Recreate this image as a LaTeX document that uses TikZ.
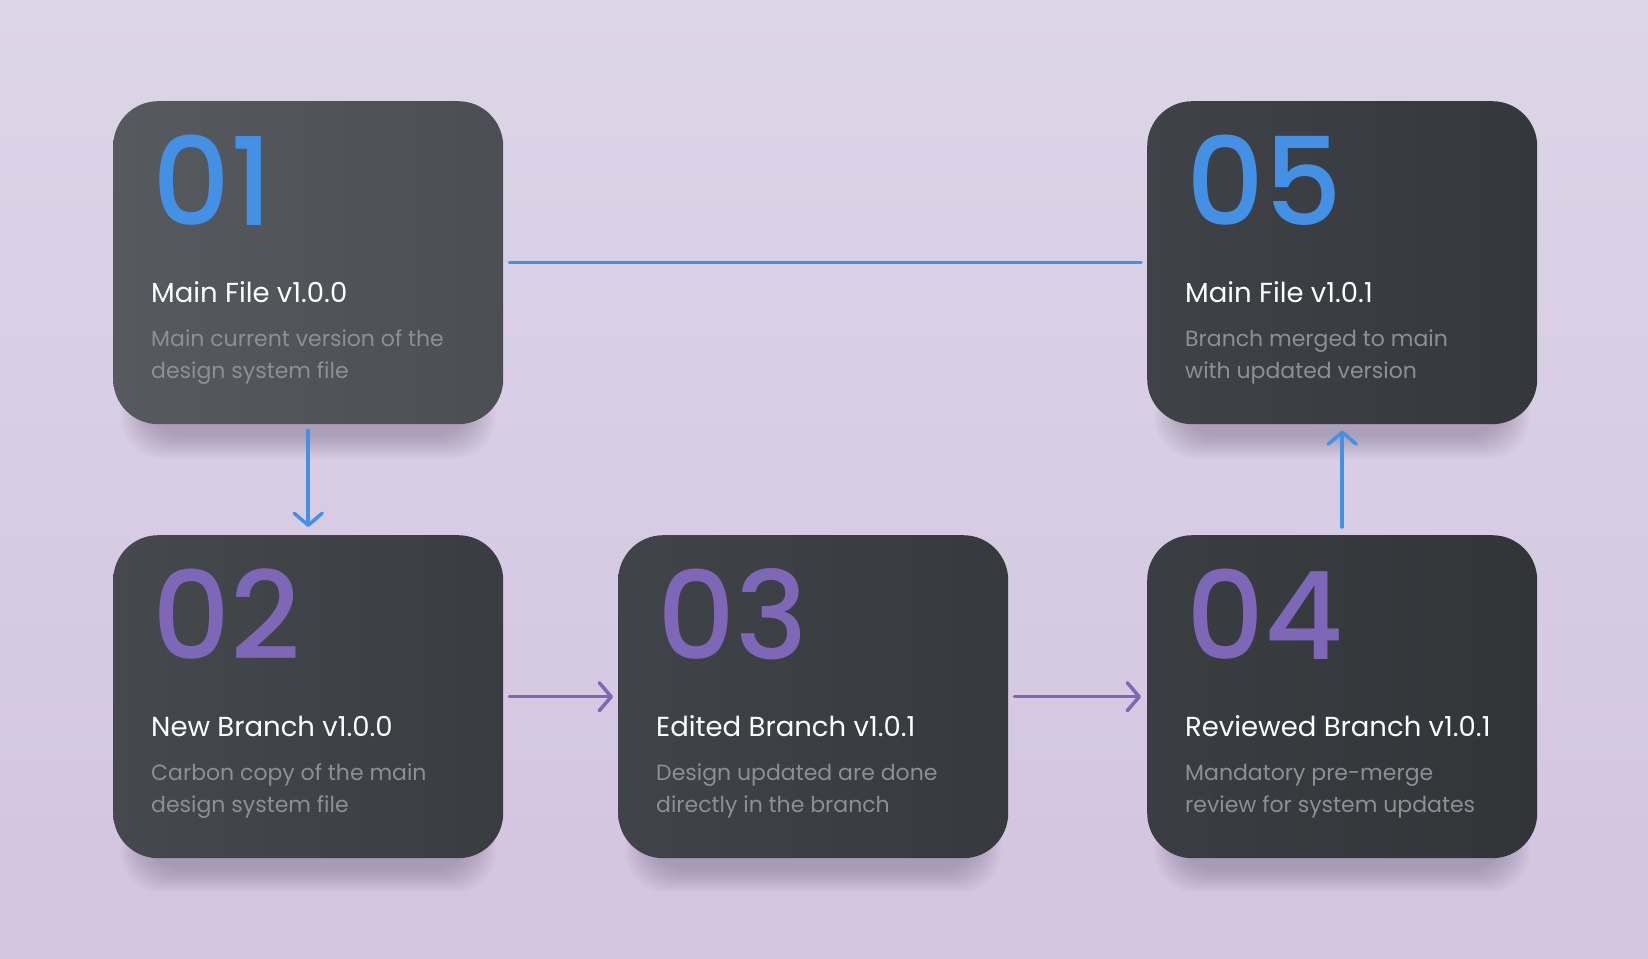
\documentclass[tikz,border=0pt]{standalone}
\usepackage{fontspec}
\setmainfont{Poppins}
\IfFontExistsTF{Poppins Medium}{\newfontfamily\numfont{Poppins Medium}}{\newfontfamily\numfont{Poppins}[FakeBold=1]}
\newfontfamily\descfont{Poppins}
\usetikzlibrary{arrows.meta,calc}
\pgfdeclarelayer{canvas}
\pgfdeclarelayer{shade}
\pgfsetlayers{canvas,shade,main}
\definecolor{bgA}{HTML}{DDD5E8}
\definecolor{bgB}{HTML}{D3C4E0}
\definecolor{nblue}{HTML}{4490E4}
\definecolor{npurp}{HTML}{7D67B6}
\definecolor{descc}{HTML}{8C8F94}
\definecolor{shadowc}{HTML}{4A3D5E}
\definecolor{c1L}{HTML}{56595D}\definecolor{c1R}{HTML}{4B4E52}
\definecolor{c2L}{HTML}{45484C}\definecolor{c2R}{HTML}{393C40}
\definecolor{c3L}{HTML}{404347}\definecolor{c3R}{HTML}{36393D}
\definecolor{c4L}{HTML}{3A3D41}\definecolor{c4R}{HTML}{323538}
\definecolor{c5L}{HTML}{3F4246}\definecolor{c5R}{HTML}{34373B}
\tikzset{
  card/.style={draw=none, rounded corners=45pt, minimum width=390pt, minimum height=323pt, inner sep=0pt, anchor=north west},
  num/.style={anchor=base west, inner sep=0pt, font=\numfont\fontsize{122}{122}\selectfont},
  ttl/.style={anchor=base west, inner sep=0pt, text=white, font=\fontsize{27.5}{27.5}\selectfont},
  dsc/.style={anchor=base west, inner sep=0pt, text=descc, font=\descfont\fontsize{22}{22}\selectfont},
  conn/.style={line width=3.5pt, line cap=round},
  arr/.style={conn, -{Straight Barb[length=12pt,width=28pt,round]}},
}
\begin{document}
\begin{tikzpicture}[x=1pt,y=-1pt]
\useasboundingbox (0,0) rectangle (1648,958);
\begin{pgfonlayer}{canvas}
\shade[top color=bgA, bottom color=bgB] (0,0) rectangle (1648,958);
\end{pgfonlayer}

% cards
\node[card, left color=c1L, right color=c1R] (b1) at (113,101) {};
\node[card, left color=c5L, right color=c5R] (b5) at (1147,101) {};
\node[card, left color=c2L, right color=c2R] (b2) at (113,535) {};
\node[card, left color=c3L, right color=c3R] (b3) at (618,535) {};
\node[card, left color=c4L, right color=c4R] (b4) at (1147,535) {};

% shadows
\begin{pgfonlayer}{shade}
\foreach \b in {b1,b2,b3,b4,b5}{
  \foreach \k in {0,...,11}{
    \fill[shadowc, opacity=0.028, rounded corners=40pt]
      ($(\b.north west)+(32-2.2*\k, 40-1.5*\k)$) rectangle ($(\b.south east)+(-32+2.2*\k, 12+2*\k)$);
  }
}
\end{pgfonlayer}

% numbers
\node[num, text=nblue] (n1) at ($(b1.north west)+(39,124)$) {01};
\node[num, text=npurp] (n2) at ($(b2.north west)+(39,124)$) {02};
\node[num, text=npurp] (n3) at ($(b3.north west)+(39,124)$) {03};
\node[num, text=npurp] (n4) at ($(b4.north west)+(39,124)$) {04};
\node[num, text=nblue] (n5) at ($(b5.north west)+(39,124)$) {05};

% titles
\node[ttl] (t1) at ($(b1.north west)+(38,201)$) {Main File v1.0.0};
\node[ttl] (t2) at ($(b2.north west)+(38,201)$) {New Branch v1.0.0};
\node[ttl] (t3) at ($(b3.north west)+(38,201)$) {Edited Branch v1.0.1};
\node[ttl] (t4) at ($(b4.north west)+(38,201)$) {Reviewed Branch v1.0.1};
\node[ttl] (t5) at ($(b5.north west)+(38,201)$) {Main File v1.0.1};

% descriptions
\node[dsc] (d1a) at ($(b1.north west)+(38,245)$) {Main current version of the};
\node[dsc] (d1b) at ($(b1.north west)+(38,277)$) {design system file};
\node[dsc] (d2a) at ($(b2.north west)+(38,245)$) {Carbon copy of the main};
\node[dsc] (d2b) at ($(b2.north west)+(38,277)$) {design system file};
\node[dsc] (d3a) at ($(b3.north west)+(38,245)$) {Design updated are done};
\node[dsc] (d3b) at ($(b3.north west)+(38,277)$) {directly in the branch};
\node[dsc] (d4a) at ($(b4.north west)+(38,245)$) {Mandatory pre-merge};
\node[dsc] (d4b) at ($(b4.north west)+(38,277)$) {review for system updates};
\node[dsc] (d5a) at ($(b5.north west)+(38,245)$) {Branch merged to main};
\node[dsc] (d5b) at ($(b5.north west)+(38,277)$) {with updated version};

% connectors
\draw[conn, nblue, shorten <=6pt, shorten >=6pt] (b1.east) -- (b5.west);
\draw[arr, nblue, shorten <=6pt, shorten >=8pt] (b1.south) -- (b2.north);
\draw[arr, nblue, shorten <=8pt, shorten >=6pt] (b4.north) -- (b5.south);
\draw[arr, npurp, shorten <=6pt, shorten >=5pt] (b2.east) -- (b3.west);
\draw[arr, npurp, shorten <=6pt, shorten >=6pt] (b3.east) -- (b4.west);
\end{tikzpicture}
\end{document}
